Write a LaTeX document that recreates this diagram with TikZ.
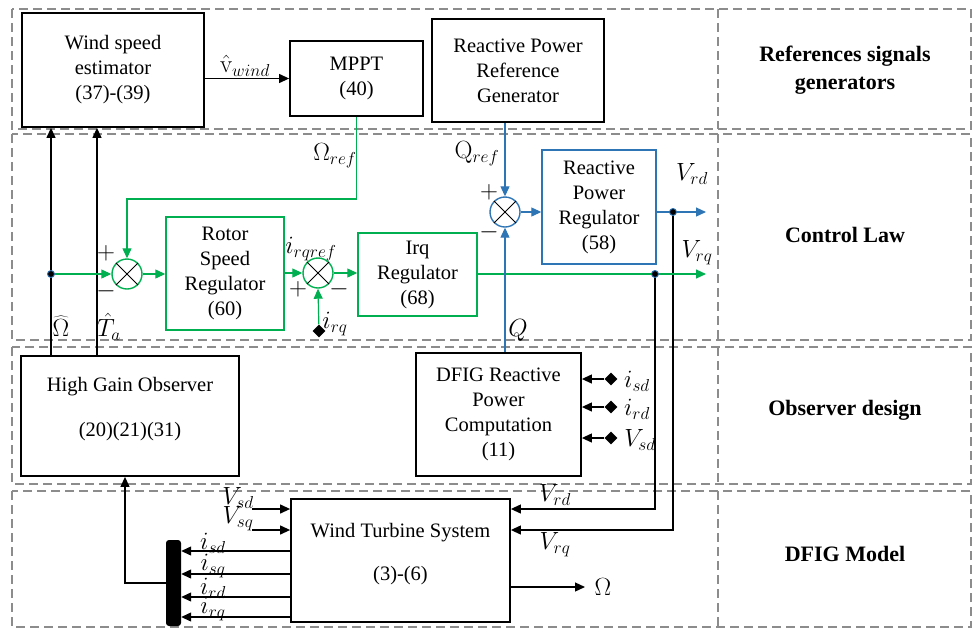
\documentclass[tikz,border=0pt]{standalone}
\usepackage[no-math]{fontspec}
\setmainfont{Liberation Serif}
\usetikzlibrary{arrows.meta,shapes.geometric,positioning}
\definecolor{lawgreen}{HTML}{00B050}
\definecolor{lawblue}{HTML}{2E75B6}
\definecolor{zonegray}{HTML}{8C8C8C}

\begin{document}
\begin{tikzpicture}[font=\fontsize{20.5}{25}\selectfont,x=1pt,y=-1pt,
 zone/.style={draw=zonegray,line width=1.8pt,dash pattern=on 9pt off 5pt},
 blk/.style={draw,line width=1.8pt,align=center,inner sep=0pt},
 gblk/.style={draw=lawgreen,line width=1.4pt,align=center,inner sep=0pt},
 bblk/.style={draw=lawblue,line width=1.4pt,align=center,inner sep=0pt},
 sumnode/.style={circle,line width=1.4pt,minimum size=30pt,inner sep=0pt},
 tip/.style={-{Triangle[length=10pt,width=9pt]}},
 wire/.style={line width=1.2pt},
 dotnode/.style={circle,fill=black,draw=lawblue,line width=0.9pt,minimum size=7pt,inner sep=0pt},
 pin/.style={diamond,fill=black,minimum size=13pt,inner sep=0pt},
 sig/.style={font=\fontsize{23}{26}\selectfont,inner sep=0pt},
 zonelabel/.style={font=\fontsize{22}{28}\selectfont\bfseries,align=center}]
\useasboundingbox (0,0) rectangle (975,630);
% dashed zones
\foreach \t/\b in {9/129,134/340,347/484,491/627}{
 \draw[zone] (12,\t) rectangle (971,\b) (718,\t)--(718,\b);
}
\node[zonelabel] (zref) at (845,70) {References signals\\generators};
\node[zonelabel] (zlaw) at (845,235) {Control Law};
\node[zonelabel] (zobs) at (845,410) {Observer design};
\node[zonelabel] (zmod) at (845,554) {DFIG Model};
% blocks
\node[blk,minimum width=182pt,minimum height=114pt] (wse) at (113,70) {Wind speed\\estimator\\(37)-(39)};
\node[blk,minimum width=133pt,minimum height=75pt] (mppt) at (356.5,78.5) {MPPT\\(40)};
\node[blk,minimum width=172pt,minimum height=103pt] (qgen) at (518,70.5) {Reactive Power\\Reference\\Generator};
\node[gblk,minimum width=118pt,minimum height=113pt] (rsr) at (225,273.5) {Rotor\\Speed\\Regulator\\(60)};
\node[gblk,minimum width=119pt,minimum height=83pt] (irq) at (417.5,274.5) {Irq\\Regulator\\(68)};
\node[bblk,minimum width=114pt,minimum height=114pt] (rpr) at (599,207) {Reactive\\Power\\Regulator\\(58)};
\node[blk,minimum width=218pt,minimum height=120pt] (hgo) at (130,416) {};
\node[align=center] (hgotxt) at (130,409.5) {High Gain Observer\\[20pt](20)(21)(31)};
\node[blk,minimum width=165pt,minimum height=123pt] (rpc) at (498.5,414.5) {DFIG Reactive\\Power\\Computation\\(11)};
\node[blk,minimum width=219pt,minimum height=123pt] (wts) at (400.5,560.5) {};
\node[align=center] (wtstxt) at (400.5,554.5) {Wind Turbine System\\[18pt](3)-(6)};
\node[fill=black,rounded corners=3pt,minimum width=15pt,minimum height=86pt,inner sep=0pt] (bus) at (173.5,583) {};
% summing points
\node[sumnode,draw=lawgreen] (s1) at (127,274) {};
\node[sumnode,draw=lawgreen] (s2) at (318,273) {};
\node[sumnode,draw=lawblue] (s3) at (505,212) {};
\foreach \s in {s1,s2,s3}{\draw[line width=0.8pt] (\s.north west)--(\s.south east) (\s.north east)--(\s.south west);}
% measured inputs
\node[pin] (pirq) at (319,331) {};
\node[pin] (pisd) at (611,379) {};
\node[pin] (pird) at (611,407) {};
\node[pin] (pvsd) at (611,438) {};
% free ends and branch points
\coordinate (j0) at (51,274);
\coordinate (jq) at (655,274);
\coordinate (jd) at (673,212);
\coordinate (ta) at (97,356);
\coordinate (wbend) at (356.5,199);
\coordinate (vrdout) at (706,212);
\coordinate (vrqout) at (706,274);
\coordinate (vsdin) at (252,509);
\coordinate (vsqin) at (252,530);
\coordinate (omout) at (585,587);
% black links
\draw[wire,tip] (mppt.west -| wse.east) -- (mppt.west);
\draw[wire,tip] (hgo.north -| j0) -- (wse.south -| j0);
\draw[wire,tip] (hgo.north -| ta) -- (wse.south -| ta);
\draw[wire,tip] (jq) |- ([yshift=51.5pt]wts.east);
\draw[wire,tip] (jd) |- ([yshift=30.5pt]wts.east);
\draw[wire,tip] (vsdin) -- (vsdin -| wts.west);
\draw[wire,tip] (vsqin) -- (vsqin -| wts.west);
\foreach \dy in {9.5,-13.5,-36.5,-56.5}{
 \draw[wire,tip] ([yshift=\dy pt]wts.west) -- ([yshift=\dy pt]wts.west -| bus.east);
}
\draw[wire,tip] (bus.west) -| ([xshift=-5pt]hgo.south);
\draw[wire,tip] ([yshift=-26.5pt]wts.east) -- (omout);
\foreach \p in {pisd,pird,pvsd}{\draw[wire,tip] (\p) -- (\p -| rpc.east);}
% speed loop (green)
\draw[wire,lawgreen,tip] (mppt.south) -- (wbend) -| (s1.north);
\draw[wire,lawgreen,tip] (j0) -- (s1.west);
\draw[wire,lawgreen,tip] (s1.east) -- (s1 -| rsr.west);
\draw[wire,lawgreen,tip] (rsr.east |- s2) -- (s2.west);
\draw[wire,lawgreen,tip] (s2.east) -- (s2 -| irq.west);
\draw[wire,lawgreen,tip] (pirq) -- (s2.south);
\draw[wire,lawgreen,tip] (irq.east |- jq) -- (vrqout);
% reactive power loop (blue)
\draw[wire,lawblue,tip] (qgen.south -| s3) -- (s3.north);
\draw[wire,lawblue,tip] (rpc.north -| s3) -- (s3.south);
\draw[wire,lawblue,tip] (s3.east) -- (s3 -| rpr.west);
\draw[wire,lawblue,tip] (rpr.east |- jd) -- (vrdout);
\foreach \j in {j0,jq,jd}{\node[dotnode] (\j dot) at (\j) {};}
% signal labels
\node[sig] (lvw) at (245,66) {\(\hat{\mathrm{v}}_{wind}\)};
\node[sig] (lwref) at (335,156) {\(\Omega_{ref}\)};
\node[sig] (lqref) at (477,154) {\(\mathrm{Q}_{ref}\)};
\node[sig] (lvrd) at (692,174) {\(V_{rd}\)};
\node[sig] (lvrq) at (697,253) {\(V_{rq}\)};
\node[sig] (lq) at (518,330) {\(Q\)};
\node[sig] (lomh) at (61,326) {\(\widehat{\Omega}\)};
\node[sig] (lta) at (109,327) {\(\hat{T}_a\)};
\node[sig] (lirqref) at (311,249) {\(i_{rqref}\)};
\node[sig] (lirq) at (335,324) {\(i_{rq}\)};
\foreach \n/\x/\y/\s in {p1/106/253/+,m1/106/291/-,p2/298/289/+,m2/339/289/-,p3/489/192/+,m3/489/232/-}{
 \node[sig] (\n) at (\x,\y) {\(\s\)};
}
\foreach \n/\x/\y/\s in {cisd/637/381/i_{sd},cird/637/409/i_{rd},cvsd/640/440/V_{sd},wvsd/238/498/V_{sd},wvsq/238/519/V_{sq},wvrd/555/495/V_{rd},wvrq/555/545/V_{rq},wisd/213/543/i_{sd},wisq/213/566/i_{sq},wird/213/588/i_{rd},wirq/213/609/i_{rq}}{
 \node[sig] (\n) at (\x,\y) {\(\s\)};
}
\node[sig] (lom) at (603,587) {\(\Omega\)};
\end{tikzpicture}
\end{document}
